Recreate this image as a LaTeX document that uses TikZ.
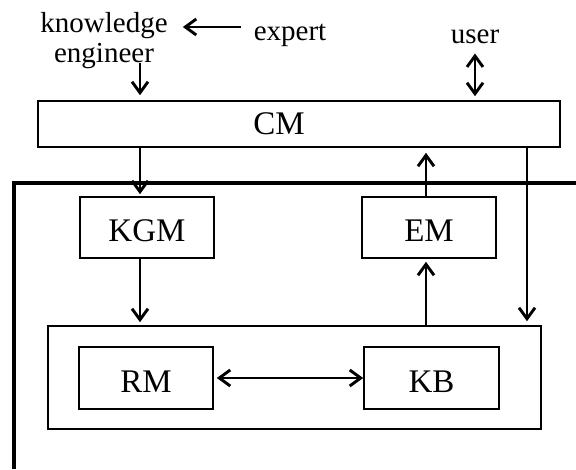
\documentclass[tikz,border=0pt]{standalone}
\usepackage{fontspec}
\setmainfont{Liberation Serif}
\usetikzlibrary{arrows.meta}
\newcommand{\grand}{\fontsize{33}{38}\selectfont}
\newcommand{\petit}{\fontsize{29}{30}\selectfont}

\begin{document}
\begin{tikzpicture}[x=1pt,y=-1pt]
 % definition des styles
  \tikzstyle{boite}=[rectangle,draw,line width=1.6pt,inner sep=0pt,minimum width=134pt,minimum height=61pt,text height=28pt,text depth=0pt,font=\grand]
  \tikzstyle{texte}=[inner sep=2pt,font=\petit,anchor=base]
  \tikzstyle{fleche}=[-{Straight Barb[length=11pt,width=16pt]},line width=2.9pt]
  \tikzstyle{double}=[{Straight Barb[length=11pt,width=16pt]}-{Straight Barb[length=11pt,width=16pt]},line width=2.9pt]
  \tikzstyle{cadre}=[line width=3.3pt]
  \useasboundingbox (0,0) rectangle (576,469);
 % les colonnes
  \coordinate (colA) at (140,0);
  \coordinate (colB) at (426,0);
  \coordinate (colC) at (527,0);
  \coordinate (colU) at (475,0);
  \coordinate (lig) at (0,27);
 % les neuds
  \node[texte,align=center] (ke) at (104,62) {knowledge\\engineer};
  \node[texte] (expert) at (290,40) {expert};
  \node[texte] (user) at (475,43) {user};
  \node[boite,minimum width=522pt,minimum height=46pt,text height=21pt] (CM) at (299,124) {\hspace*{-40pt}CM};
  \node[boite] (KGM) at (147,227.5) {KGM};
  \node[boite] (EM) at (429,227.5) {EM};
  \node[boite,minimum width=493pt,minimum height=103pt] (MB) at (294.5,377.5) {};
  \node[boite,minimum height=62pt] (RM) at (146,378) {RM};
  \node[boite,minimum width=135pt,minimum height=62pt] (KB) at (431.5,378) {KB};
 % le cadre
  \draw[cadre] (576,183) -| (14,469);
 % les fleches
  \draw[fleche,shorten <=11pt,shorten >=13pt] (expert.west |- lig) -- (ke.east |- lig);
  \draw[fleche,shorten >=5pt] ([yshift=7pt]ke.south -| colA) -- (CM.north -| colA);
  \draw[double,shorten <=8pt,shorten >=4pt] (user.south -| colU) -- (CM.north -| colU);
  \draw[fleche,shorten >=2pt] (CM.south -| colA) -- (KGM.north -| colA);
  \draw[fleche,shorten >=3pt] (KGM.south -| colA) -- (MB.north -| colA);
  \draw[fleche,shorten >=5pt] (EM.north -| colB) -- (CM.south -| colB);
  \draw[fleche,shorten >=3pt] (MB.north -| colB) -- (EM.south -| colB);
  \draw[fleche,shorten >=4pt] (CM.south -| colC) -- (MB.north -| colC);
  \draw[double,shorten <=3pt] (RM) -- (KB);
\end{tikzpicture}
\end{document}
